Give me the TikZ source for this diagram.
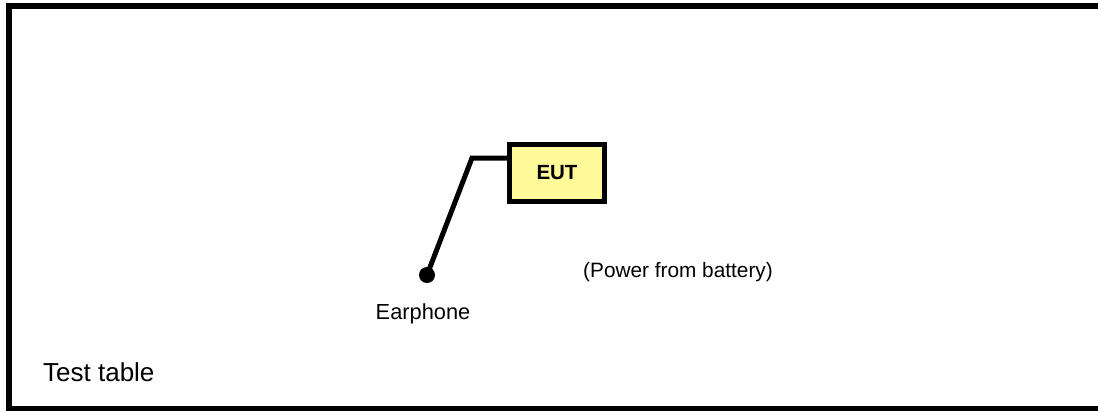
\documentclass[tikz,border=0pt]{standalone}
\usepackage{fontspec}
\setmainfont{Liberation Sans}
\usepackage{tikz}
\usetikzlibrary{shapes, arrows}
\tikzstyle{eutbox} = [rectangle, 
minimum width=95pt, 
minimum height=57pt, 
text centered, 
line width=5pt, 
draw=black, 
fill=yellow!40, 
font=\fontsize{20.5}{24}\selectfont\bfseries]
\tikzstyle{plug} = [circle, 
minimum size=16pt, 
inner sep=0pt, 
fill=black]
\tikzstyle{label} = [inner sep=0pt, font=\fontsize{21.8}{26}\selectfont]
\tikzstyle{cable} = [line width=5pt, line join=miter]

\begin{document}
\begin{tikzpicture}[x=1pt, y=-1pt]

\useasboundingbox (0,0) rectangle (1098,410);
\draw [line width=6pt] (1120,6) -- (9,6) -- (9,409) -- (1120,409);

\node (eut) [eutbox] at (557,173) {EUT};
\coordinate (bend) at (472,158);
\node (phone) [plug] at (427,275) {};

\node (earlbl) [label] at (423,314) {Earphone};
\node (power) [label, font=\fontsize{20.8}{25}\selectfont] at (678,272) {(Power from battery)};
\node (table) [label, anchor=west, font=\fontsize{26}{31}\selectfont] at (43,372) {Test table};

\draw [cable] ([yshift=15pt]eut.west) -- (bend) -- (phone.center);

\end{tikzpicture}
\end{document}
